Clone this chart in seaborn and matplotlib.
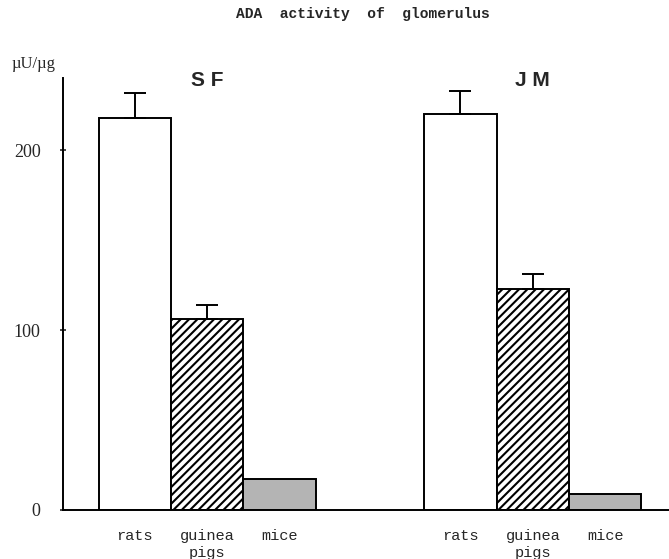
import matplotlib
matplotlib.use("Agg")
import matplotlib.pyplot as plt
from matplotlib.container import BarContainer
import seaborn as sns
import pandas as pd
import numpy as np

groups = ["SF", "JM"]
species = ["rats", "guinea pigs", "mice"]
species_labels = ["rats", "guinea\npigs", "mice"]
sf_values = [218, 106, 17]
jm_values = [220, 123, 9]
sf_errors = [14, 8, 0]
jm_errors = [13, 8, 0]
group_titles = ["S F", "J M"]
title = "ADA  activity  of  glomerulus"
unit_label = "\u00b5U/\u00b5g"
yticks = [0, 100, 200]

df = pd.DataFrame({
    "group": [g for g in groups for _ in species],
    "species": species * len(groups),
    "value": sf_values + jm_values,
    "error": sf_errors + jm_errors,
})

sns.set_style("white")
plt.rcParams["hatch.linewidth"] = 1.5

fig = plt.figure(figsize=(6.69, 5.59), dpi=100)
ax = fig.add_axes([0.094, 0.0877, 0.906, 0.7723])

sns.barplot(data=df, x="group", y="value", hue="species", order=groups,
            hue_order=species, width=2/3, gap=0, errorbar=None, legend=False,
            palette=["white", "white", "#b4b4b4"], edgecolor="black",
            linewidth=1.4, saturation=1, ax=ax)

bar_containers = [c for c in ax.containers if isinstance(c, BarContainer)]
hatches = [None, "////", None]
centers, labels = [], []
for i, cont in enumerate(bar_containers):
    for j, p in enumerate(cont.patches):
        if hatches[i]:
            p.set_hatch(hatches[i])
        cx = p.get_x() + p.get_width() / 2
        centers.append(cx)
        labels.append(species_labels[i])
        err = df[(df.group == groups[j]) & (df.species == species[i])]["error"].iloc[0]
        if err > 0:
            ax.errorbar([cx], [p.get_height()], yerr=[[0], [err]], fmt="none",
                        ecolor="black", elinewidth=1.4, capsize=8, capthick=1.4)

order = np.argsort(centers)
ax.set_xticks([centers[k] for k in order])
ax.set_xticklabels([labels[k] for k in order], family="Liberation Mono", fontsize=11)
ax.tick_params(axis="x", length=0, pad=14)

ax.set_ylim(0, 240)
ax.set_xlim(-0.443, 1.418)
ax.set_yticks(yticks)
ax.set_yticklabels([str(t) for t in yticks], family="Liberation Serif", fontsize=13)
ax.tick_params(axis="y", direction="inout", length=4, width=1.2, pad=14, left=True)
ax.set_xlabel("")
ax.set_ylabel("")

for s in ["top", "right"]:
    ax.spines[s].set_visible(False)
ax.spines["left"].set_linewidth(1.4)
ax.spines["bottom"].set_linewidth(1.4)
ax.spines["left"].set_color("black")
ax.spines["bottom"].set_color("black")

for g, t in enumerate(group_titles):
    ax.text(g, 239, t, ha="center", va="center", fontsize=15,
            fontweight="bold", family="Liberation Sans")

fig.text(0.05, 0.885, unit_label, ha="center", va="center",
         family="Liberation Serif", fontsize=12)
fig.text(0.543, 0.975, title, ha="center", va="center",
         family="Liberation Mono", fontsize=10.5, fontweight="bold")

fig.savefig("out.png", dpi=100)
